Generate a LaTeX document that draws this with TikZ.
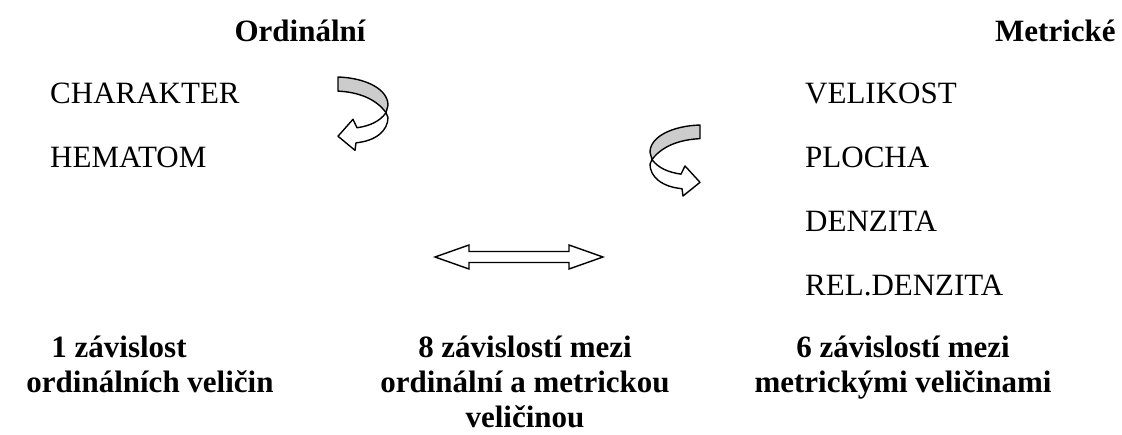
\documentclass[tikz,border=0pt]{standalone}
\usepackage{fontspec}
\setmainfont{Liberation Serif}
\tikzset{
  twistarrow/.pic={
    \draw[line width=1.4pt,line join=round,fill=white]
      (48,38) .. controls (42,47) and (32,52) .. (19,54) -- (15,45) -- (0,63)
      -- (17,78) -- (18,70) .. controls (38,68) and (50,57) .. (50,43) -- cycle;
    \draw[line width=1.4pt,line join=round,fill=black!20]
      (0,0) .. controls (28,1) and (50,13) .. (50,30) -- (48,38)
      .. controls (38,23) and (20,16) .. (0,15) -- cycle;
  }
}
\begin{document}
\begin{tikzpicture}[x=1pt,y=-1pt,
  lbl/.style={inner sep=0pt,font=\fontsize{31}{35}\selectfont},
  hdr/.style={lbl,font=\fontsize{31}{35}\selectfont\bfseries},
  summary/.style={hdr,align=center,anchor=north}]
\useasboundingbox (0,0) rectangle (1122,434);

\node[hdr,anchor=base] (ord) at (300,41) {Ordinální};
\node[hdr,anchor=base west] (met) at (995,41) {Metrické};

\foreach \n/\y/\t in {char/103/CHARAKTER, hem/167/HEMATOM}
  \node[lbl,anchor=base west] (\n) at (50,\y) {\t};

\foreach \n/\y/\t in {vel/103/VELIKOST, plo/167/PLOCHA,
                      den/231/DENZITA, rel/295/REL.DENZITA}
  \node[lbl,anchor=base west] (\n) at (805,\y) {\t};

\pic[yscale=0.94] at (338,77) {twistarrow};
\pic[xscale=-1,yscale=0.91] at (700,125) {twistarrow};

\draw[line width=1.4pt,line join=miter]
  (435,257) -- (469,245) -- (469,251.5) -- (569,251.5) -- (569,245)
  -- (603,257) -- (569,269) -- (569,262.5) -- (469,262.5) -- (469,269) -- cycle;

\node[summary] (one) at (150,336) {1 závislost\hspace*{2em}\\ordinálních veličin};
\node[summary] (eight) at (525,336) {8 závislostí mezi\\ordinální a metrickou\\veličinou};
\node[summary] (six) at (903,336) {6 závislostí mezi\\metrickými veličinami};
\end{tikzpicture}
\end{document}
